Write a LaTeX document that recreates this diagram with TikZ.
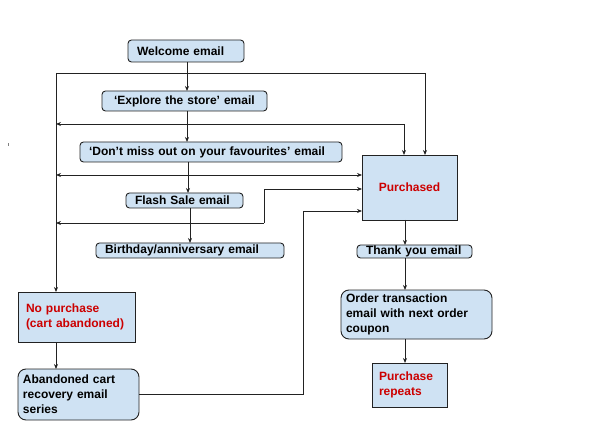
\documentclass[tikz,border=0pt]{standalone}
\usepackage{fontspec}
\setmainfont{Liberation Sans}
\usetikzlibrary{arrows.meta}
\definecolor{boxfill}{HTML}{CFE2F3}
\definecolor{boxline}{HTML}{222222}
\definecolor{redtxt}{HTML}{CC0000}
\begin{document}
\begin{tikzpicture}[x=1pt,y=-1pt,
  every node/.style={font=\fontsize{12}{15}\selectfont\bfseries, inner sep=0pt, outer sep=0pt},
  box/.style={draw=boxline, line width=0.9pt, fill=boxfill, rounded corners=3.5pt, align=left, inner xsep=9pt},
  bigbox/.style={draw=boxline, line width=0.9pt, fill=boxfill, rounded corners=8pt},
  sqbox/.style={draw=boxline, line width=0.9pt, fill=boxfill},
  arr/.style={draw=boxline, line width=0.8pt, -{Stealth[length=5pt,width=4pt]}},
  ln/.style={draw=boxline, line width=0.8pt},
  redt/.style={text=redtxt}]
\useasboundingbox (0,0) rectangle (602,446);

% nodes
\node[box, minimum height=22pt, text width=98pt] (welcome) at (186,51) {Welcome email};
\node[box, minimum height=20pt, text width=147pt, inner xsep=9pt] (explore) at (184.5,101) {\hspace*{3pt}‘Explore the store’ email};
\node[box, minimum height=20pt, text width=244pt] (dontmiss) at (211,152) {‘Don’t miss out on your favourites’ email};
\node[box, minimum height=15pt, text width=99pt] (flash) at (184.5,200.5) {Flash Sale email};
\node[box, minimum height=15pt, text width=170pt] (birthday) at (190,250.5) {Birthday/anniversary email};
\node[sqbox, redt, minimum width=117pt, minimum height=50pt, text width=101pt, align=left, inner xsep=8pt] (nopurch) at (76.5,317) {No purchase\\(cart abandoned)};
\node[bigbox, minimum width=121pt, minimum height=51pt, text width=111pt, align=left, inner xsep=5pt] (abandon) at (78.5,394.5) {Abandoned cart\\recovery email\\series};
\node[sqbox, redt, minimum width=95pt, minimum height=65pt] (purchased) at (409.5,187.5) {Purchased};
\node[box, minimum height=13pt, text width=97pt] (thanks) at (414.5,251.5) {Thank you email};
\node[bigbox, minimum width=151pt, minimum height=49pt, text width=141pt, align=left, inner xsep=5pt] (order) at (416.5,314.5) {Order transaction\\email with next order\\coupon};
\node[sqbox, redt, minimum width=75pt, minimum height=44pt, text width=61pt, align=left, inner xsep=7pt] (repeats) at (409.5,385) {Purchase\\repeats};

% helper coordinates
\coordinate (xL) at (56,0);
\coordinate (x187) at (187,0);
\coordinate (x188) at (188,0);
\coordinate (x190) at (190,0);
\coordinate (x405) at (405,0);
\coordinate (tl) at (56,73);
\coordinate (tr) at (425,73);
\coordinate (r2) at (404,124);
\coordinate (l2) at (56,124);
\coordinate (l3) at (56,175);
\coordinate (l4) at (56,223);
\coordinate (j4) at (264,223);
\coordinate (j4b) at (264,189);
\coordinate (k) at (303,211);

% main column
\draw[arr] (welcome.south -| x187) -- (explore.north -| x187);
\draw[arr] (explore.south -| x187) -- (dontmiss.north -| x187);
\draw[arr] (dontmiss.south -| x188) -- (flash.north -| x188);
\draw[arr] (flash.south -| x190) -- (birthday.north -| x190);

% top loop
\draw[ln] (tl) -- (tr);
\draw[arr] (tr) -- (tr |- purchased.north);
\draw[arr] (tl) -- (tl |- nopurch.north);

% y=124
\draw[arr] (r2) -- (l2);
\draw[arr] (r2) -- (r2 |- purchased.north);

% y=175
\draw[arr, {Stealth[length=5pt,width=4pt]}-{Stealth[length=5pt,width=4pt]}] (l3) -- (l3 -| purchased.west);

% y=223
\draw[arr] (j4) -- (l4);
\draw[arr] (j4) -- (j4b) -- (j4b -| purchased.west);

% abandoned back to purchased
\draw[arr] (abandon.east) -| (k) -- (k -| purchased.west);

% left column
\draw[arr] (nopurch.south -| xL) -- (abandon.north -| xL);

% right column
\draw[arr] (purchased.south -| x405) -- (thanks.north -| x405);
\draw[arr] (thanks.south -| x405) -- (order.north -| x405);
\draw[arr] (order.south -| x405) -- (repeats.north -| x405);

% stray mark
\draw[gray, line width=0.8pt] (8.5,143.5) -- (8.5,146.5);
\end{tikzpicture}
\end{document}
